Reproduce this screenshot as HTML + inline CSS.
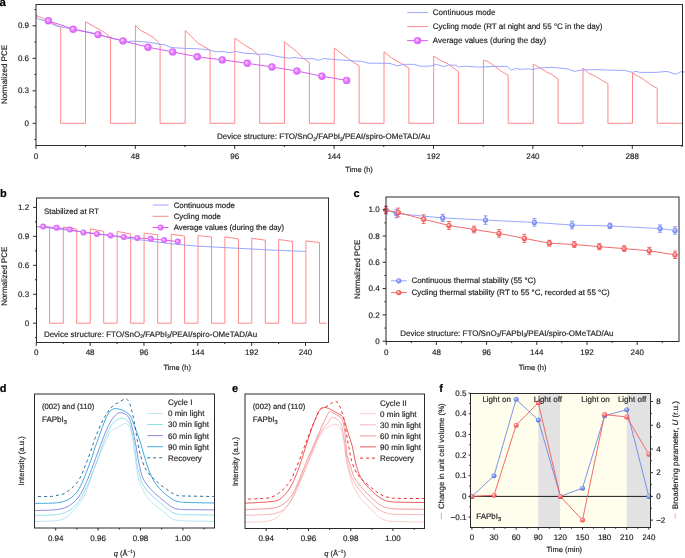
<!DOCTYPE html>
<html><head><meta charset="utf-8"><title>Figure</title>
<style>html,body{margin:0;padding:0;background:#fff;}svg{display:block;will-change:transform;}text{font-family:"Liberation Sans", sans-serif;text-rendering:geometricPrecision;stroke:#231f20;stroke-width:0.18px;paint-order:stroke;}</style></head>
<body><svg width="685" height="558" viewBox="0 0 685 558" font-family='"Liberation Sans", sans-serif' font-size="8" fill="#231f20">
<defs>
<radialGradient id="gp" cx="0.5" cy="0.5" r="0.5" fx="0.36" fy="0.38"><stop offset="0" stop-color="#fff4ff"/><stop offset="0.3" stop-color="#efa2ff"/><stop offset="0.62" stop-color="#e173fd"/><stop offset="1" stop-color="#d860f8"/></radialGradient>
<radialGradient id="gb" cx="0.5" cy="0.5" r="0.5" fx="0.4" fy="0.36"><stop offset="0" stop-color="#f4f6ff"/><stop offset="0.35" stop-color="#aab6fa"/><stop offset="0.75" stop-color="#7a8cf4"/><stop offset="1" stop-color="#7084f0"/></radialGradient>
<radialGradient id="gr" cx="0.5" cy="0.5" r="0.5" fx="0.4" fy="0.36"><stop offset="0" stop-color="#fff4f4"/><stop offset="0.35" stop-color="#f8a0a0"/><stop offset="0.75" stop-color="#f25a5a"/><stop offset="1" stop-color="#f05050"/></radialGradient>
<radialGradient id="gfb" cx="0.4" cy="0.36" r="0.62"><stop offset="0" stop-color="#eef1ff"/><stop offset="0.35" stop-color="#8fa2f0"/><stop offset="1" stop-color="#5b74dd"/></radialGradient>
<radialGradient id="gfr" cx="0.4" cy="0.36" r="0.62"><stop offset="0" stop-color="#ffeeee"/><stop offset="0.35" stop-color="#f79090"/><stop offset="1" stop-color="#ec4848"/></radialGradient>
</defs>
<text x="-0.6" y="5.6" font-size="11.5" font-weight="bold" fill="#000" >a</text>
<polyline points="36,15.1 60.7,27.1 60.7,123.3 85.5,123.3 85.5,21.8 104.3,32.3 110.6,37.6 110.6,123.3 135.4,123.3 135.4,25.4 140.4,30.4 145.7,33 153.6,37.6 160.1,44.4 160.1,123.3 185.2,123.3 185.2,30.5 197.8,43 210.1,50.1 210.1,123.3 234.8,123.3 234.8,38.2 245.3,45.5 252.6,49.8 259.7,56.2 259.7,123.3 284.4,123.3 284.4,41.8 296.5,51.4 303.1,58 309.4,62.6 309.4,123.3 334.3,123.3 334.3,48 350.5,60.4 359.1,65.8 359.1,123.3 384,123.3 384,51.9 391.5,57.8 401.7,63.7 408.9,68.1 408.9,123.3 433.7,123.3 433.7,56.2 441.1,60.8 447,63.2 458.4,71.4 458.4,123.3 483.4,123.3 483.4,60.1 488,61.6 495.3,66.7 501.1,71.1 508.2,75.4 508.2,123.3 533.3,123.3 533.3,64.1 540.5,68.1 546.4,71.8 550.8,73.9 558.1,79 558.1,123.3 583,123.3 583,68 588.8,73.4 594.6,75.8 601.9,80.4 607.9,83.6 607.9,123.3 632.5,123.3 632.5,73 643.4,79.2 650.9,84.8 657.2,88.3 657.2,123.3 682.4,123.3" fill="none" stroke="#ff7b7b" stroke-width="0.9" stroke-linejoin="round" />
<polyline points="36.2,16 37.9,18.8 45.4,20.9 56.8,26.2 64.6,27.5 73.4,29.4 80,30.4 93.1,33 106.3,36.9 119.4,40.2 128.6,41.5 132.6,41.1 139.1,41.5 149.6,42.2 158.8,44.2 165,44.9 170.8,47.4 175.2,47.8 185.4,48.4 194.2,48.6 203,49.2 208.8,50 216.1,51.8 223.4,51.4 229.2,52.8 236.5,51.5 243.8,53.2 252.6,53.5 258.4,54.4 265,54 270.2,54.9 279,56.8 289.2,58.2 295,57.5 302.3,58.7 314,58.7 318.4,60.4 323.5,58.5 333,59.4 347.6,60.4 355,61.1 362.3,61.4 368.1,63.2 376.9,63.2 390,63.4 397.3,65.9 403.2,64.4 413.4,64.3 420.7,66.2 429.5,66.2 436.8,64.4 443.3,66.6 448.4,65.1 455.8,65.2 458.8,67 464.6,66.2 479.2,67.1 493.8,66.4 506.9,66.4 511.3,70.3 515.7,68.4 520.1,69.3 528.8,68.9 533.2,69.6 537.6,68.1 552.3,67.3 564,68.5 568.4,69.1 574.2,71.4 580,70.2 594.6,69.5 610.7,70.2 624.8,70.4 632.3,72.4 636,71.4 639.7,72.4 655.8,72.4 667,71.4 675.7,74.3 680.6,71.8 685,72" fill="none" stroke="#8d9cff" stroke-width="0.9" stroke-linejoin="round" />
<polyline points="48.4,20.7 73.2,29.2 98,34.6 123,40.9 148,47.2 172.7,51.9 197.3,56.8 222.3,59.9 247.3,63.3 272,67 296.9,71 321.9,76.2 346.6,80.4" fill="none" stroke="#d65cf0" stroke-width="1" stroke-linejoin="round" />
<circle cx="48.4" cy="20.7" r="3.7" fill="url(#gp)"/>
<circle cx="73.2" cy="29.2" r="3.7" fill="url(#gp)"/>
<circle cx="98" cy="34.6" r="3.7" fill="url(#gp)"/>
<circle cx="123" cy="40.9" r="3.7" fill="url(#gp)"/>
<circle cx="148" cy="47.2" r="3.7" fill="url(#gp)"/>
<circle cx="172.7" cy="51.9" r="3.7" fill="url(#gp)"/>
<circle cx="197.3" cy="56.8" r="3.7" fill="url(#gp)"/>
<circle cx="222.3" cy="59.9" r="3.7" fill="url(#gp)"/>
<circle cx="247.3" cy="63.3" r="3.7" fill="url(#gp)"/>
<circle cx="272" cy="67" r="3.7" fill="url(#gp)"/>
<circle cx="296.9" cy="71" r="3.7" fill="url(#gp)"/>
<circle cx="321.9" cy="76.2" r="3.7" fill="url(#gp)"/>
<circle cx="346.6" cy="80.4" r="3.7" fill="url(#gp)"/>
<rect x="36" y="4.5" width="646.5" height="141" fill="none" stroke="#2b2b2b" stroke-width="1"/>
<line x1="85.6" y1="145.5" x2="85.6" y2="147.1" stroke="#2b2b2b" stroke-width="1" />
<line x1="185" y1="145.5" x2="185" y2="147.1" stroke="#2b2b2b" stroke-width="1" />
<line x1="284.4" y1="145.5" x2="284.4" y2="147.1" stroke="#2b2b2b" stroke-width="1" />
<line x1="383.79" y1="145.5" x2="383.79" y2="147.1" stroke="#2b2b2b" stroke-width="1" />
<line x1="483.19" y1="145.5" x2="483.19" y2="147.1" stroke="#2b2b2b" stroke-width="1" />
<line x1="582.59" y1="145.5" x2="582.59" y2="147.1" stroke="#2b2b2b" stroke-width="1" />
<line x1="681.99" y1="145.5" x2="681.99" y2="147.1" stroke="#2b2b2b" stroke-width="1" />
<line x1="35.9" y1="145.5" x2="35.9" y2="148.9" stroke="#2b2b2b" stroke-width="1" />
<text x="35.9" y="159.4" text-anchor="middle" >0</text>
<line x1="135.3" y1="145.5" x2="135.3" y2="148.9" stroke="#2b2b2b" stroke-width="1" />
<text x="135.3" y="159.4" text-anchor="middle" >48</text>
<line x1="234.7" y1="145.5" x2="234.7" y2="148.9" stroke="#2b2b2b" stroke-width="1" />
<text x="234.7" y="159.4" text-anchor="middle" >96</text>
<line x1="334.1" y1="145.5" x2="334.1" y2="148.9" stroke="#2b2b2b" stroke-width="1" />
<text x="334.1" y="159.4" text-anchor="middle" >144</text>
<line x1="433.49" y1="145.5" x2="433.49" y2="148.9" stroke="#2b2b2b" stroke-width="1" />
<text x="433.49" y="159.4" text-anchor="middle" >192</text>
<line x1="532.89" y1="145.5" x2="532.89" y2="148.9" stroke="#2b2b2b" stroke-width="1" />
<text x="532.89" y="159.4" text-anchor="middle" >240</text>
<line x1="632.29" y1="145.5" x2="632.29" y2="148.9" stroke="#2b2b2b" stroke-width="1" />
<text x="632.29" y="159.4" text-anchor="middle" >288</text>
<line x1="36" y1="139.54" x2="34.4" y2="139.54" stroke="#2b2b2b" stroke-width="1" />
<line x1="36" y1="107.06" x2="34.4" y2="107.06" stroke="#2b2b2b" stroke-width="1" />
<line x1="36" y1="74.56" x2="34.4" y2="74.56" stroke="#2b2b2b" stroke-width="1" />
<line x1="36" y1="42.08" x2="34.4" y2="42.08" stroke="#2b2b2b" stroke-width="1" />
<line x1="36" y1="9.58" x2="34.4" y2="9.58" stroke="#2b2b2b" stroke-width="1" />
<line x1="36" y1="123.3" x2="32.6" y2="123.3" stroke="#2b2b2b" stroke-width="1" />
<text x="29" y="125.9" text-anchor="end" >0</text>
<line x1="36" y1="90.81" x2="32.6" y2="90.81" stroke="#2b2b2b" stroke-width="1" />
<text x="29" y="93.41" text-anchor="end" >0.3</text>
<line x1="36" y1="58.32" x2="32.6" y2="58.32" stroke="#2b2b2b" stroke-width="1" />
<text x="29" y="60.92" text-anchor="end" >0.6</text>
<line x1="36" y1="25.83" x2="32.6" y2="25.83" stroke="#2b2b2b" stroke-width="1" />
<text x="29" y="28.43" text-anchor="end" >0.9</text>
<text x="7.2" y="74.5" text-anchor="middle" transform="rotate(-90 7.2 74.5)" >Normalized PCE</text>
<text x="359" y="172.1" font-size="7.5" text-anchor="middle" >Time (h)</text>
<text x="217" y="139.2" >Device structure: FTO/SnO<tspan dy="1.5" font-size="4.9">2</tspan><tspan dy="-1.5">/FAPbI</tspan><tspan dy="1.5" font-size="4.9">3</tspan><tspan dy="-1.5">/PEAI/spiro-OMeTAD/Au</tspan></text>
<line x1="407.2" y1="12.6" x2="428" y2="12.6" stroke="#8d9cff" stroke-width="0.9" />
<text x="432.8" y="15.4" >Continuous mode</text>
<line x1="407.2" y1="26.6" x2="428" y2="26.6" stroke="#ff7b7b" stroke-width="0.9" />
<text x="432.8" y="29.4" >Cycling mode (RT at night and 55 °C in the day)</text>
<line x1="407.2" y1="40.6" x2="428" y2="40.6" stroke="#d65cf0" stroke-width="1" />
<circle cx="417.6" cy="40.6" r="3.7" fill="url(#gp)"/>
<text x="432.8" y="43.4" >Average values (during the day)</text>
<text x="0.1" y="196.8" font-size="11" font-weight="bold" fill="#000" >b</text>
<polyline points="36.2,226.4 49.6,227.2 49.6,323.2 63.3,323.2 63.3,227 76.7,229.2 76.7,323.2 90.3,323.2 90.3,228.9 103.7,231.3 103.7,323.2 117.2,323.2 117.2,231.4 130.7,234 130.7,323.2 144.1,323.2 144.1,233.2 157.7,234.7 157.7,323.2 171.2,323.2 171.2,234.3 184.6,236.1 184.6,323.2 198,323.2 198,235.5 211.6,237.1 211.6,323.2 224.9,323.2 224.9,236.8 238.4,239 238.4,323.2 251.8,323.2 251.8,238.3 265.3,240.2 265.3,323.2 278.7,323.2 278.7,239.5 292.6,241.4 292.6,323.2 305.9,323.2 305.9,240.9 319.5,242.5 319.5,323.2 326.4,323.2" fill="none" stroke="#ff7b7b" stroke-width="0.9" stroke-linejoin="round" />
<polyline points="36.2,226.6 60,229.3 90,232.8 110,235.6 130,238.6 150,241 170,243.7 183.2,244.9 200,246.3 240.1,248.4 270,250 305.5,251.4" fill="none" stroke="#8d9cff" stroke-width="0.9" stroke-linejoin="round" />
<polyline points="43.1,226.6 56.6,227.7 69.9,229.6 83.4,232.4 96.9,234 110.5,235.4 123.8,236.9 137.2,237.9 150.8,238.8 164.2,240.1 177.8,241.6" fill="none" stroke="#d65cf0" stroke-width="1" stroke-linejoin="round" />
<circle cx="43.1" cy="226.6" r="3" fill="url(#gp)"/>
<circle cx="56.6" cy="227.7" r="3" fill="url(#gp)"/>
<circle cx="69.9" cy="229.6" r="3" fill="url(#gp)"/>
<circle cx="83.4" cy="232.4" r="3" fill="url(#gp)"/>
<circle cx="96.9" cy="234" r="3" fill="url(#gp)"/>
<circle cx="110.5" cy="235.4" r="3" fill="url(#gp)"/>
<circle cx="123.8" cy="236.9" r="3" fill="url(#gp)"/>
<circle cx="137.2" cy="237.9" r="3" fill="url(#gp)"/>
<circle cx="150.8" cy="238.8" r="3" fill="url(#gp)"/>
<circle cx="164.2" cy="240.1" r="3" fill="url(#gp)"/>
<circle cx="177.8" cy="241.6" r="3" fill="url(#gp)"/>
<rect x="36.5" y="198" width="292" height="144.5" fill="none" stroke="#2b2b2b" stroke-width="1"/>
<line x1="63.22" y1="342.5" x2="63.22" y2="344.1" stroke="#2b2b2b" stroke-width="1" />
<line x1="117.06" y1="342.5" x2="117.06" y2="344.1" stroke="#2b2b2b" stroke-width="1" />
<line x1="170.9" y1="342.5" x2="170.9" y2="344.1" stroke="#2b2b2b" stroke-width="1" />
<line x1="224.75" y1="342.5" x2="224.75" y2="344.1" stroke="#2b2b2b" stroke-width="1" />
<line x1="278.59" y1="342.5" x2="278.59" y2="344.1" stroke="#2b2b2b" stroke-width="1" />
<line x1="36.3" y1="342.5" x2="36.3" y2="345.9" stroke="#2b2b2b" stroke-width="1" />
<text x="36.3" y="354.5" text-anchor="middle" >0</text>
<line x1="90.14" y1="342.5" x2="90.14" y2="345.9" stroke="#2b2b2b" stroke-width="1" />
<text x="90.14" y="354.5" text-anchor="middle" >48</text>
<line x1="143.98" y1="342.5" x2="143.98" y2="345.9" stroke="#2b2b2b" stroke-width="1" />
<text x="143.98" y="354.5" text-anchor="middle" >96</text>
<line x1="197.82" y1="342.5" x2="197.82" y2="345.9" stroke="#2b2b2b" stroke-width="1" />
<text x="197.82" y="354.5" text-anchor="middle" >144</text>
<line x1="251.67" y1="342.5" x2="251.67" y2="345.9" stroke="#2b2b2b" stroke-width="1" />
<text x="251.67" y="354.5" text-anchor="middle" >192</text>
<line x1="305.51" y1="342.5" x2="305.51" y2="345.9" stroke="#2b2b2b" stroke-width="1" />
<text x="305.51" y="354.5" text-anchor="middle" >240</text>
<line x1="36.5" y1="337.68" x2="34.9" y2="337.68" stroke="#2b2b2b" stroke-width="1" />
<line x1="36.5" y1="308.72" x2="34.9" y2="308.72" stroke="#2b2b2b" stroke-width="1" />
<line x1="36.5" y1="279.77" x2="34.9" y2="279.77" stroke="#2b2b2b" stroke-width="1" />
<line x1="36.5" y1="250.82" x2="34.9" y2="250.82" stroke="#2b2b2b" stroke-width="1" />
<line x1="36.5" y1="221.88" x2="34.9" y2="221.88" stroke="#2b2b2b" stroke-width="1" />
<line x1="36.5" y1="323.2" x2="33.1" y2="323.2" stroke="#2b2b2b" stroke-width="1" />
<text x="29.1" y="325.9" text-anchor="end" >0</text>
<line x1="36.5" y1="294.25" x2="33.1" y2="294.25" stroke="#2b2b2b" stroke-width="1" />
<text x="29.1" y="296.95" text-anchor="end" >0.3</text>
<line x1="36.5" y1="265.3" x2="33.1" y2="265.3" stroke="#2b2b2b" stroke-width="1" />
<text x="29.1" y="268" text-anchor="end" >0.6</text>
<line x1="36.5" y1="236.35" x2="33.1" y2="236.35" stroke="#2b2b2b" stroke-width="1" />
<text x="29.1" y="239.05" text-anchor="end" >0.9</text>
<line x1="36.5" y1="207.4" x2="33.1" y2="207.4" stroke="#2b2b2b" stroke-width="1" />
<text x="29.1" y="210.1" text-anchor="end" >1.2</text>
<text x="7.2" y="276.3" text-anchor="middle" transform="rotate(-90 7.2 276.3)" >Normalized PCE</text>
<text x="177.2" y="370.1" font-size="7.5" text-anchor="middle" >Time (h)</text>
<text x="44.1" y="213.9" font-size="7.8" >Stabilized at RT</text>
<text x="43.9" y="336.8" >Device structure: FTO/SnO<tspan dy="1.5" font-size="4.9">2</tspan><tspan dy="-1.5">/FAPbI</tspan><tspan dy="1.5" font-size="4.9">3</tspan><tspan dy="-1.5">/PEAI/spiro-OMeTAD/Au</tspan></text>
<line x1="152.7" y1="205" x2="168.5" y2="205" stroke="#8d9cff" stroke-width="0.9" />
<text x="173.7" y="207.7" font-size="7.8" >Continuous mode</text>
<line x1="152.7" y1="216.3" x2="168.5" y2="216.3" stroke="#ff7b7b" stroke-width="0.9" />
<text x="173.7" y="219" font-size="7.8" >Cycling mode</text>
<line x1="152.7" y1="227.5" x2="168.5" y2="227.5" stroke="#d65cf0" stroke-width="1" />
<circle cx="160.6" cy="227.5" r="3" fill="url(#gp)"/>
<text x="173.7" y="230.2" font-size="7.8" >Average values (during the day)</text>
<text x="353.4" y="196.8" font-size="11" font-weight="bold" fill="#000" >c</text>
<polyline points="386,210 396.4,213.6 442.7,217.9 485.5,220.1 534.4,222.4 572.1,225.1 609.9,225.9 660.1,228.6 675,230.5" fill="none" stroke="#8d9cff" stroke-width="0.9" stroke-linejoin="round" />
<polyline points="386,210 398.3,212.5 423.6,219.2 448.9,225.5 474,229.5 499,233.4 524.3,238.4 549.3,243.2 574.3,244.5 599.4,246.7 624.2,248.6 649.3,250.8 675,254.8" fill="none" stroke="#f25a5a" stroke-width="0.9" stroke-linejoin="round" />
<line x1="386" y1="206.3" x2="386" y2="213.7" stroke="#7d8ff5" stroke-width="0.9" />
<line x1="384" y1="206.3" x2="388" y2="206.3" stroke="#7d8ff5" stroke-width="0.9" />
<line x1="384" y1="213.7" x2="388" y2="213.7" stroke="#7d8ff5" stroke-width="0.9" />
<circle cx="386" cy="210" r="2.6" fill="url(#gb)"/>
<line x1="396.4" y1="209.4" x2="396.4" y2="217.8" stroke="#7d8ff5" stroke-width="0.9" />
<line x1="394.4" y1="209.4" x2="398.4" y2="209.4" stroke="#7d8ff5" stroke-width="0.9" />
<line x1="394.4" y1="217.8" x2="398.4" y2="217.8" stroke="#7d8ff5" stroke-width="0.9" />
<circle cx="396.4" cy="213.6" r="2.6" fill="url(#gb)"/>
<line x1="442.7" y1="214.3" x2="442.7" y2="221.5" stroke="#7d8ff5" stroke-width="0.9" />
<line x1="440.7" y1="214.3" x2="444.7" y2="214.3" stroke="#7d8ff5" stroke-width="0.9" />
<line x1="440.7" y1="221.5" x2="444.7" y2="221.5" stroke="#7d8ff5" stroke-width="0.9" />
<circle cx="442.7" cy="217.9" r="2.6" fill="url(#gb)"/>
<line x1="485.5" y1="215.9" x2="485.5" y2="224.3" stroke="#7d8ff5" stroke-width="0.9" />
<line x1="483.5" y1="215.9" x2="487.5" y2="215.9" stroke="#7d8ff5" stroke-width="0.9" />
<line x1="483.5" y1="224.3" x2="487.5" y2="224.3" stroke="#7d8ff5" stroke-width="0.9" />
<circle cx="485.5" cy="220.1" r="2.6" fill="url(#gb)"/>
<line x1="534.4" y1="218.6" x2="534.4" y2="226.2" stroke="#7d8ff5" stroke-width="0.9" />
<line x1="532.4" y1="218.6" x2="536.4" y2="218.6" stroke="#7d8ff5" stroke-width="0.9" />
<line x1="532.4" y1="226.2" x2="536.4" y2="226.2" stroke="#7d8ff5" stroke-width="0.9" />
<circle cx="534.4" cy="222.4" r="2.6" fill="url(#gb)"/>
<line x1="572.1" y1="221.3" x2="572.1" y2="228.9" stroke="#7d8ff5" stroke-width="0.9" />
<line x1="570.1" y1="221.3" x2="574.1" y2="221.3" stroke="#7d8ff5" stroke-width="0.9" />
<line x1="570.1" y1="228.9" x2="574.1" y2="228.9" stroke="#7d8ff5" stroke-width="0.9" />
<circle cx="572.1" cy="225.1" r="2.6" fill="url(#gb)"/>
<line x1="609.9" y1="223.2" x2="609.9" y2="228.6" stroke="#7d8ff5" stroke-width="0.9" />
<line x1="607.9" y1="223.2" x2="611.9" y2="223.2" stroke="#7d8ff5" stroke-width="0.9" />
<line x1="607.9" y1="228.6" x2="611.9" y2="228.6" stroke="#7d8ff5" stroke-width="0.9" />
<circle cx="609.9" cy="225.9" r="2.6" fill="url(#gb)"/>
<line x1="660.1" y1="224.9" x2="660.1" y2="232.3" stroke="#7d8ff5" stroke-width="0.9" />
<line x1="658.1" y1="224.9" x2="662.1" y2="224.9" stroke="#7d8ff5" stroke-width="0.9" />
<line x1="658.1" y1="232.3" x2="662.1" y2="232.3" stroke="#7d8ff5" stroke-width="0.9" />
<circle cx="660.1" cy="228.6" r="2.6" fill="url(#gb)"/>
<line x1="675" y1="226.8" x2="675" y2="234.2" stroke="#7d8ff5" stroke-width="0.9" />
<line x1="673" y1="226.8" x2="677" y2="226.8" stroke="#7d8ff5" stroke-width="0.9" />
<line x1="673" y1="234.2" x2="677" y2="234.2" stroke="#7d8ff5" stroke-width="0.9" />
<circle cx="675" cy="230.5" r="2.6" fill="url(#gb)"/>
<line x1="386" y1="206.3" x2="386" y2="213.7" stroke="#f25a5a" stroke-width="0.9" />
<line x1="384" y1="206.3" x2="388" y2="206.3" stroke="#f25a5a" stroke-width="0.9" />
<line x1="384" y1="213.7" x2="388" y2="213.7" stroke="#f25a5a" stroke-width="0.9" />
<circle cx="386" cy="210" r="2.6" fill="url(#gr)"/>
<line x1="398.3" y1="208.1" x2="398.3" y2="216.9" stroke="#f25a5a" stroke-width="0.9" />
<line x1="396.3" y1="208.1" x2="400.3" y2="208.1" stroke="#f25a5a" stroke-width="0.9" />
<line x1="396.3" y1="216.9" x2="400.3" y2="216.9" stroke="#f25a5a" stroke-width="0.9" />
<circle cx="398.3" cy="212.5" r="2.6" fill="url(#gr)"/>
<line x1="423.6" y1="214.8" x2="423.6" y2="223.6" stroke="#f25a5a" stroke-width="0.9" />
<line x1="421.6" y1="214.8" x2="425.6" y2="214.8" stroke="#f25a5a" stroke-width="0.9" />
<line x1="421.6" y1="223.6" x2="425.6" y2="223.6" stroke="#f25a5a" stroke-width="0.9" />
<circle cx="423.6" cy="219.2" r="2.6" fill="url(#gr)"/>
<line x1="448.9" y1="221.5" x2="448.9" y2="229.5" stroke="#f25a5a" stroke-width="0.9" />
<line x1="446.9" y1="221.5" x2="450.9" y2="221.5" stroke="#f25a5a" stroke-width="0.9" />
<line x1="446.9" y1="229.5" x2="450.9" y2="229.5" stroke="#f25a5a" stroke-width="0.9" />
<circle cx="448.9" cy="225.5" r="2.6" fill="url(#gr)"/>
<line x1="474" y1="226.2" x2="474" y2="232.8" stroke="#f25a5a" stroke-width="0.9" />
<line x1="472" y1="226.2" x2="476" y2="226.2" stroke="#f25a5a" stroke-width="0.9" />
<line x1="472" y1="232.8" x2="476" y2="232.8" stroke="#f25a5a" stroke-width="0.9" />
<circle cx="474" cy="229.5" r="2.6" fill="url(#gr)"/>
<line x1="499" y1="229.6" x2="499" y2="237.2" stroke="#f25a5a" stroke-width="0.9" />
<line x1="497" y1="229.6" x2="501" y2="229.6" stroke="#f25a5a" stroke-width="0.9" />
<line x1="497" y1="237.2" x2="501" y2="237.2" stroke="#f25a5a" stroke-width="0.9" />
<circle cx="499" cy="233.4" r="2.6" fill="url(#gr)"/>
<line x1="524.3" y1="234.4" x2="524.3" y2="242.4" stroke="#f25a5a" stroke-width="0.9" />
<line x1="522.3" y1="234.4" x2="526.3" y2="234.4" stroke="#f25a5a" stroke-width="0.9" />
<line x1="522.3" y1="242.4" x2="526.3" y2="242.4" stroke="#f25a5a" stroke-width="0.9" />
<circle cx="524.3" cy="238.4" r="2.6" fill="url(#gr)"/>
<line x1="549.3" y1="240.3" x2="549.3" y2="246.1" stroke="#f25a5a" stroke-width="0.9" />
<line x1="547.3" y1="240.3" x2="551.3" y2="240.3" stroke="#f25a5a" stroke-width="0.9" />
<line x1="547.3" y1="246.1" x2="551.3" y2="246.1" stroke="#f25a5a" stroke-width="0.9" />
<circle cx="549.3" cy="243.2" r="2.6" fill="url(#gr)"/>
<line x1="574.3" y1="241.6" x2="574.3" y2="247.4" stroke="#f25a5a" stroke-width="0.9" />
<line x1="572.3" y1="241.6" x2="576.3" y2="241.6" stroke="#f25a5a" stroke-width="0.9" />
<line x1="572.3" y1="247.4" x2="576.3" y2="247.4" stroke="#f25a5a" stroke-width="0.9" />
<circle cx="574.3" cy="244.5" r="2.6" fill="url(#gr)"/>
<line x1="599.4" y1="243.7" x2="599.4" y2="249.7" stroke="#f25a5a" stroke-width="0.9" />
<line x1="597.4" y1="243.7" x2="601.4" y2="243.7" stroke="#f25a5a" stroke-width="0.9" />
<line x1="597.4" y1="249.7" x2="601.4" y2="249.7" stroke="#f25a5a" stroke-width="0.9" />
<circle cx="599.4" cy="246.7" r="2.6" fill="url(#gr)"/>
<line x1="624.2" y1="245.8" x2="624.2" y2="251.4" stroke="#f25a5a" stroke-width="0.9" />
<line x1="622.2" y1="245.8" x2="626.2" y2="245.8" stroke="#f25a5a" stroke-width="0.9" />
<line x1="622.2" y1="251.4" x2="626.2" y2="251.4" stroke="#f25a5a" stroke-width="0.9" />
<circle cx="624.2" cy="248.6" r="2.6" fill="url(#gr)"/>
<line x1="649.3" y1="247.4" x2="649.3" y2="254.2" stroke="#f25a5a" stroke-width="0.9" />
<line x1="647.3" y1="247.4" x2="651.3" y2="247.4" stroke="#f25a5a" stroke-width="0.9" />
<line x1="647.3" y1="254.2" x2="651.3" y2="254.2" stroke="#f25a5a" stroke-width="0.9" />
<circle cx="649.3" cy="250.8" r="2.6" fill="url(#gr)"/>
<line x1="675" y1="251.1" x2="675" y2="258.5" stroke="#f25a5a" stroke-width="0.9" />
<line x1="673" y1="251.1" x2="677" y2="251.1" stroke="#f25a5a" stroke-width="0.9" />
<line x1="673" y1="258.5" x2="677" y2="258.5" stroke="#f25a5a" stroke-width="0.9" />
<circle cx="675" cy="254.8" r="2.6" fill="url(#gr)"/>
<rect x="386" y="197" width="293" height="144.5" fill="none" stroke="#2b2b2b" stroke-width="1"/>
<line x1="411.3" y1="341.5" x2="411.3" y2="343.1" stroke="#2b2b2b" stroke-width="1" />
<line x1="461.5" y1="341.5" x2="461.5" y2="343.1" stroke="#2b2b2b" stroke-width="1" />
<line x1="511.7" y1="341.5" x2="511.7" y2="343.1" stroke="#2b2b2b" stroke-width="1" />
<line x1="561.89" y1="341.5" x2="561.89" y2="343.1" stroke="#2b2b2b" stroke-width="1" />
<line x1="612.09" y1="341.5" x2="612.09" y2="343.1" stroke="#2b2b2b" stroke-width="1" />
<line x1="662.29" y1="341.5" x2="662.29" y2="343.1" stroke="#2b2b2b" stroke-width="1" />
<line x1="386.2" y1="341.5" x2="386.2" y2="344.9" stroke="#2b2b2b" stroke-width="1" />
<text x="386.2" y="354.5" text-anchor="middle" >0</text>
<line x1="436.4" y1="341.5" x2="436.4" y2="344.9" stroke="#2b2b2b" stroke-width="1" />
<text x="436.4" y="354.5" text-anchor="middle" >48</text>
<line x1="486.6" y1="341.5" x2="486.6" y2="344.9" stroke="#2b2b2b" stroke-width="1" />
<text x="486.6" y="354.5" text-anchor="middle" >96</text>
<line x1="536.8" y1="341.5" x2="536.8" y2="344.9" stroke="#2b2b2b" stroke-width="1" />
<text x="536.8" y="354.5" text-anchor="middle" >144</text>
<line x1="586.99" y1="341.5" x2="586.99" y2="344.9" stroke="#2b2b2b" stroke-width="1" />
<text x="586.99" y="354.5" text-anchor="middle" >192</text>
<line x1="637.19" y1="341.5" x2="637.19" y2="344.9" stroke="#2b2b2b" stroke-width="1" />
<text x="637.19" y="354.5" text-anchor="middle" >240</text>
<line x1="386" y1="328.05" x2="384.4" y2="328.05" stroke="#2b2b2b" stroke-width="1" />
<line x1="386" y1="301.75" x2="384.4" y2="301.75" stroke="#2b2b2b" stroke-width="1" />
<line x1="386" y1="275.45" x2="384.4" y2="275.45" stroke="#2b2b2b" stroke-width="1" />
<line x1="386" y1="249.15" x2="384.4" y2="249.15" stroke="#2b2b2b" stroke-width="1" />
<line x1="386" y1="222.85" x2="384.4" y2="222.85" stroke="#2b2b2b" stroke-width="1" />
<line x1="386" y1="341.2" x2="382.6" y2="341.2" stroke="#2b2b2b" stroke-width="1" />
<text x="379.6" y="343.8" text-anchor="end" >0</text>
<line x1="386" y1="314.9" x2="382.6" y2="314.9" stroke="#2b2b2b" stroke-width="1" />
<text x="379.6" y="317.5" text-anchor="end" >0.2</text>
<line x1="386" y1="288.6" x2="382.6" y2="288.6" stroke="#2b2b2b" stroke-width="1" />
<text x="379.6" y="291.2" text-anchor="end" >0.4</text>
<line x1="386" y1="262.3" x2="382.6" y2="262.3" stroke="#2b2b2b" stroke-width="1" />
<text x="379.6" y="264.9" text-anchor="end" >0.6</text>
<line x1="386" y1="236" x2="382.6" y2="236" stroke="#2b2b2b" stroke-width="1" />
<text x="379.6" y="238.6" text-anchor="end" >0.8</text>
<line x1="386" y1="209.7" x2="382.6" y2="209.7" stroke="#2b2b2b" stroke-width="1" />
<text x="379.6" y="212.3" text-anchor="end" >1.0</text>
<text x="360" y="269.3" text-anchor="middle" transform="rotate(-90 360 269.3)" >Normalized PCE</text>
<text x="532.6" y="370.4" font-size="7.5" text-anchor="middle" >Time (h)</text>
<text x="400.3" y="335.8" >Device structure: FTO/SnO<tspan dy="1.5" font-size="4.9">2</tspan><tspan dy="-1.5">/FAPbI</tspan><tspan dy="1.5" font-size="4.9">3</tspan><tspan dy="-1.5">/PEAI/spiro-OMeTAD/Au</tspan></text>
<line x1="391" y1="280.8" x2="406.9" y2="280.8" stroke="#8d9cff" stroke-width="0.9" />
<circle cx="398.8" cy="280.8" r="2.6" fill="url(#gb)"/>
<text x="411.5" y="283.1" font-size="7.92" >Continuous thermal stability (55 °C)</text>
<line x1="391" y1="292.6" x2="406.9" y2="292.6" stroke="#f25a5a" stroke-width="0.9" />
<circle cx="398.8" cy="292.6" r="2.6" fill="url(#gr)"/>
<text x="411.5" y="294.8" font-size="7.92" >Cycling thermal stability (RT to 55 °C, recorded at 55 °C)</text>
<text x="-0.3" y="391.9" font-size="11" font-weight="bold" fill="#000" >d</text>
<clipPath id="cd"><rect x="34.5" y="394.0" width="180.0" height="134.0"/></clipPath>
<g clip-path="url(#cd)">
<path d="M34,521.5 C36.67,521.43 45.97,521.3 50,521.1 C54.03,520.9 55.9,520.7 58.2,520.3 C60.5,519.9 62.05,519.5 63.8,518.7 C65.55,517.9 67.08,516.85 68.7,515.5 C70.32,514.15 71.88,512.35 73.5,510.6 C75.12,508.85 76.98,506.72 78.4,505 C79.82,503.28 80.9,502.08 82,500.3 C83.1,498.52 83.97,496.68 85,494.3 C86.03,491.92 86.88,489.6 88.2,486 C89.52,482.4 91.3,477.1 92.9,472.7 C94.5,468.3 96.42,463.22 97.8,459.6 C99.18,455.98 100.23,453.35 101.2,451 C102.17,448.65 102.68,447.45 103.6,445.5 C104.52,443.55 105.7,441.48 106.7,439.3 C107.7,437.12 108.62,434.03 109.6,432.4 C110.58,430.77 111.45,430.18 112.6,429.5 C113.75,428.82 115.28,428.87 116.5,428.3 C117.72,427.73 118.5,426.88 119.9,426.1 C121.3,425.32 123.58,423.85 124.9,423.6 C126.22,423.35 126.98,423.93 127.8,424.6 C128.62,425.27 129.13,425.95 129.8,427.6 C130.47,429.25 131.22,432.03 131.8,434.5 C132.38,436.97 132.9,439.82 133.3,442.4 C133.7,444.98 133.83,447.07 134.2,450 C134.57,452.93 134.98,456.17 135.5,460 C136.02,463.83 136.63,469.25 137.3,473 C137.97,476.75 138.57,479.72 139.5,482.5 C140.43,485.28 141.68,487.32 142.9,489.7 C144.12,492.08 145.32,494.67 146.8,496.8 C148.28,498.93 150.15,500.88 151.8,502.5 C153.45,504.12 155.07,505.18 156.7,506.5 C158.33,507.82 159.95,509.08 161.6,510.4 C163.25,511.72 164.95,513.08 166.6,514.4 C168.25,515.72 169.87,517.32 171.5,518.3 C173.13,519.28 174.15,519.87 176.4,520.3 C178.65,520.73 178.65,520.73 185,520.9 C191.35,521.07 209.58,521.23 214.5,521.3" fill="none" stroke="#b3e1f6" stroke-width="0.9" stroke-linejoin="round" />
<path d="M34,515.3 C36.67,515.27 45.97,515.27 50,515.1 C54.03,514.93 55.77,514.7 58.2,514.3 C60.63,513.9 62.58,513.45 64.6,512.7 C66.62,511.95 68.42,511.08 70.3,509.8 C72.18,508.52 74.15,506.88 75.9,505 C77.65,503.12 79.45,500.65 80.8,498.5 C82.15,496.35 82.82,494.43 84,492.1 C85.18,489.77 86.42,487.9 87.9,484.5 C89.38,481.1 91.25,475.98 92.9,471.7 C94.55,467.42 96.48,462.47 97.8,458.8 C99.12,455.13 99.65,452.95 100.8,449.7 C101.95,446.45 103.4,442.5 104.7,439.3 C106,436.1 107.28,433.12 108.6,430.5 C109.92,427.88 111.28,425.25 112.6,423.6 C113.92,421.95 115.35,421.43 116.5,420.6 C117.65,419.77 118.43,419.02 119.5,418.6 C120.57,418.18 121.83,418 122.9,418.1 C123.97,418.2 124.92,418.45 125.9,419.2 C126.88,419.95 127.98,421.2 128.8,422.6 C129.62,424 130.13,425.28 130.8,427.6 C131.47,429.92 132.23,433.7 132.8,436.5 C133.37,439.3 133.77,441.82 134.2,444.4 C134.63,446.98 134.85,448.4 135.4,452 C135.95,455.6 136.58,461.35 137.5,466 C138.42,470.65 139.67,476.27 140.9,479.9 C142.13,483.53 143.42,485.5 144.9,487.8 C146.38,490.1 148.17,491.98 149.8,493.7 C151.43,495.42 153.05,496.63 154.7,498.1 C156.35,499.57 158.05,501.1 159.7,502.5 C161.35,503.9 162.97,505.18 164.6,506.5 C166.23,507.82 167.87,509.25 169.5,510.4 C171.13,511.55 172.75,512.73 174.4,513.4 C176.05,514.07 177.63,514.18 179.4,514.4 C181.17,514.62 179.15,514.58 185,514.7 C190.85,514.82 209.58,515.03 214.5,515.1" fill="none" stroke="#86dbea" stroke-width="0.9" stroke-linejoin="round" />
<path d="M34,510.5 C36.67,510.43 45.97,510.28 50,510.1 C54.03,509.92 55.77,509.78 58.2,509.4 C60.63,509.02 62.58,508.53 64.6,507.8 C66.62,507.07 68.42,506.27 70.3,505 C72.18,503.73 74.15,502.08 75.9,500.2 C77.65,498.32 79.45,495.82 80.8,493.7 C82.15,491.58 82.93,489.7 84,487.5 C85.07,485.3 85.95,483.5 87.2,480.5 C88.45,477.5 90.12,473.17 91.5,469.5 C92.88,465.83 94.28,461.8 95.5,458.5 C96.72,455.2 97.6,452.9 98.8,449.7 C100,446.5 101.38,442.67 102.7,439.3 C104.02,435.93 105.38,432.45 106.7,429.5 C108.02,426.55 109.28,423.82 110.6,421.6 C111.92,419.38 113.4,417.57 114.6,416.2 C115.8,414.83 116.78,414 117.8,413.4 C118.82,412.8 119.55,412.53 120.7,412.6 C121.85,412.67 123.52,413.2 124.7,413.8 C125.88,414.4 126.87,415.05 127.8,416.2 C128.73,417.35 129.55,418.8 130.3,420.7 C131.05,422.6 131.65,424.97 132.3,427.6 C132.95,430.23 133.63,433.7 134.2,436.5 C134.77,439.3 135.23,441.82 135.7,444.4 C136.17,446.98 136.45,448.82 137,452 C137.55,455.18 138.18,459.58 139,463.5 C139.82,467.42 140.92,472.45 141.9,475.5 C142.88,478.55 143.58,479.68 144.9,481.8 C146.22,483.92 148.17,486.3 149.8,488.2 C151.43,490.1 153.05,491.63 154.7,493.2 C156.35,494.77 158.05,496.2 159.7,497.6 C161.35,499 162.97,500.28 164.6,501.6 C166.23,502.92 167.87,504.38 169.5,505.5 C171.13,506.62 172.75,507.67 174.4,508.3 C176.05,508.93 177.63,509.08 179.4,509.3 C181.17,509.52 179.15,509.5 185,509.6 C190.85,509.7 209.58,509.85 214.5,509.9" fill="none" stroke="#7b7fdc" stroke-width="0.9" stroke-linejoin="round" />
<path d="M34,503.4 C36.67,503.37 45.97,503.33 50,503.2 C54.03,503.07 55.9,502.9 58.2,502.6 C60.5,502.3 62.05,501.93 63.8,501.4 C65.55,500.87 67.08,500.35 68.7,499.4 C70.32,498.45 72.03,497.05 73.5,495.7 C74.97,494.35 76.28,492.98 77.5,491.3 C78.72,489.62 79.72,487.82 80.8,485.6 C81.88,483.38 82.95,480.52 84,478 C85.05,475.48 85.82,473.83 87.1,470.5 C88.38,467.17 90.38,461.83 91.7,458 C93.02,454.17 93.98,450.5 95,447.5 C96.02,444.5 96.83,442.67 97.8,440 C98.77,437.33 99.82,434.23 100.8,431.5 C101.78,428.77 102.72,426.07 103.7,423.6 C104.68,421.13 105.72,418.68 106.7,416.7 C107.68,414.72 108.62,412.93 109.6,411.7 C110.58,410.47 111.62,409.82 112.6,409.3 C113.58,408.78 114.32,408.62 115.5,408.6 C116.68,408.58 118.17,408.75 119.7,409.2 C121.23,409.65 123.18,410.47 124.7,411.3 C126.22,412.13 127.62,412.97 128.8,414.2 C129.98,415.43 130.82,416.63 131.8,418.7 C132.78,420.77 133.72,423.97 134.7,426.6 C135.68,429.23 136.7,431.7 137.7,434.5 C138.7,437.3 139.87,440.73 140.7,443.4 C141.53,446.07 141.82,447.48 142.7,450.5 C143.58,453.52 144.98,458.25 146,461.5 C147.02,464.75 147.83,467.43 148.8,470 C149.77,472.57 150.82,474.85 151.8,476.9 C152.78,478.95 153.38,480.33 154.7,482.3 C156.02,484.27 158.05,486.83 159.7,488.7 C161.35,490.57 162.97,492.05 164.6,493.5 C166.23,494.95 167.87,496.25 169.5,497.4 C171.13,498.55 172.75,499.67 174.4,500.4 C176.05,501.13 177.63,501.47 179.4,501.8 C181.17,502.13 179.15,502.2 185,502.4 C190.85,502.6 209.58,502.9 214.5,503" fill="none" stroke="#3fa9e2" stroke-width="1.0" stroke-linejoin="round" />
<path d="M38,496.5 C39.35,496.5 43.82,496.52 46.1,496.5 C48.38,496.48 49.82,496.6 51.7,496.4 C53.58,496.2 55.52,495.68 57.4,495.3 C59.28,494.92 61.12,494.9 63,494.1 C64.88,493.3 66.95,491.77 68.7,490.5 C70.45,489.23 71.95,488.02 73.5,486.5 C75.05,484.98 76.7,483.23 78,481.4 C79.3,479.57 80.3,477.57 81.3,475.5 C82.3,473.43 83,471.52 84,469 C85,466.48 86.05,463.73 87.3,460.4 C88.55,457.07 90.23,452.63 91.5,449 C92.77,445.37 93.85,441.52 94.9,438.6 C95.95,435.68 96.82,433.83 97.8,431.5 C98.78,429.17 99.82,426.75 100.8,424.6 C101.78,422.45 102.72,420.42 103.7,418.6 C104.68,416.78 105.72,415.25 106.7,413.7 C107.68,412.15 108.45,410.7 109.6,409.3 C110.75,407.9 112.12,406.45 113.6,405.3 C115.08,404.15 116.67,403.43 118.5,402.4 C120.33,401.37 123.13,399.57 124.6,399.1 C126.07,398.63 126.43,398.8 127.3,399.6 C128.17,400.4 129.13,402.37 129.8,403.9 C130.47,405.43 130.8,407 131.3,408.8 C131.8,410.6 132.32,412.55 132.8,414.7 C133.28,416.85 133.72,419.07 134.2,421.7 C134.68,424.33 135.2,427.55 135.7,430.5 C136.2,433.45 136.65,436.27 137.2,439.4 C137.75,442.53 138.35,446.33 139,449.3 C139.65,452.27 140.2,454.33 141.1,457.2 C142,460.07 143.33,464.03 144.4,466.5 C145.47,468.97 146.1,470.1 147.5,472 C148.9,473.9 151.1,476.18 152.8,477.9 C154.5,479.62 156.23,480.98 157.7,482.3 C159.17,483.62 160.12,484.65 161.6,485.8 C163.08,486.95 164.95,488.05 166.6,489.2 C168.25,490.35 169.87,491.72 171.5,492.7 C173.13,493.68 174.6,494.57 176.4,495.1 C178.2,495.63 175.95,495.67 182.3,495.9 C188.65,496.13 209.13,496.4 214.5,496.5" fill="none" stroke="#2f6b8c" stroke-width="1.0" stroke-linejoin="round" stroke-dasharray="3,3"/>
</g>
<rect x="34.5" y="394" width="180" height="134" fill="none" stroke="#2b2b2b" stroke-width="1"/>
<line x1="76.9" y1="528" x2="76.9" y2="529.5" stroke="#2b2b2b" stroke-width="1" />
<line x1="119.3" y1="528" x2="119.3" y2="529.5" stroke="#2b2b2b" stroke-width="1" />
<line x1="161.7" y1="528" x2="161.7" y2="529.5" stroke="#2b2b2b" stroke-width="1" />
<line x1="204.1" y1="528" x2="204.1" y2="529.5" stroke="#2b2b2b" stroke-width="1" />
<line x1="55.7" y1="528" x2="55.7" y2="530.5" stroke="#2b2b2b" stroke-width="1" />
<text x="55.7" y="541.1" text-anchor="middle" >0.94</text>
<line x1="98.1" y1="528" x2="98.1" y2="530.5" stroke="#2b2b2b" stroke-width="1" />
<text x="98.1" y="541.1" text-anchor="middle" >0.96</text>
<line x1="140.5" y1="528" x2="140.5" y2="530.5" stroke="#2b2b2b" stroke-width="1" />
<text x="140.5" y="541.1" text-anchor="middle" >0.98</text>
<line x1="182.9" y1="528" x2="182.9" y2="530.5" stroke="#2b2b2b" stroke-width="1" />
<text x="182.9" y="541.1" text-anchor="middle" >1.00</text>
<text x="24.4" y="460.8" font-size="7.8" text-anchor="middle" transform="rotate(-90 24.4 460.8)" >Intensity (a.u.)</text>
<text x="124.5" y="556" font-size="7.5" text-anchor="middle" ><tspan font-style="italic">q</tspan> (Å<tspan dy="-3.2" font-size="4.8">−1</tspan><tspan dy="3.2">)</tspan></text>
<text x="42" y="409.3" font-size="7.7" >(002) and (110)</text>
<text x="42" y="421.9" >FAPbI<tspan dy="1.7" font-size="5.6">3</tspan><tspan dy="-1.7"></tspan></text>
<text x="168" y="405" >Cycle I</text>
<line x1="147.2" y1="413.4" x2="162.9" y2="413.4" stroke="#b3e1f6" stroke-width="0.9" />
<text x="168" y="416.3" >0 min light</text>
<line x1="147.2" y1="424.5" x2="162.9" y2="424.5" stroke="#86dbea" stroke-width="0.9" />
<text x="168" y="427.4" >30 min light</text>
<line x1="147.2" y1="435.6" x2="162.9" y2="435.6" stroke="#7b7fdc" stroke-width="0.9" />
<text x="168" y="438.5" >60 min light</text>
<line x1="147.2" y1="446.7" x2="162.9" y2="446.7" stroke="#3fa9e2" stroke-width="1.0" />
<text x="168" y="449.6" >90 min light</text>
<line x1="147.2" y1="457.8" x2="162.9" y2="457.8" stroke="#2f6b8c" stroke-width="1.0" stroke-dasharray="3,3"/>
<text x="168" y="460.7" >Recovery</text>
<text x="232" y="392.2" font-size="11" font-weight="bold" fill="#000" >e</text>
<clipPath id="ce"><rect x="245.0" y="394.0" width="179.5" height="134.5"/></clipPath>
<g clip-path="url(#ce)">
<path d="M245.1,522.3 C247.77,522.22 257.35,522 261.1,521.8 C264.85,521.6 265.72,521.42 267.6,521.1 C269.48,520.78 270.78,520.57 272.4,519.9 C274.02,519.23 275.68,518.37 277.3,517.1 C278.92,515.83 280.5,514.05 282.1,512.3 C283.7,510.55 285.28,508.75 286.9,506.6 C288.52,504.45 290.45,501.55 291.8,499.4 C293.15,497.25 293.47,496.93 295,493.7 C296.53,490.47 298.92,484.87 301,480 C303.08,475.13 305.37,469.55 307.5,464.5 C309.63,459.45 312.1,453.73 313.8,449.7 C315.5,445.67 316.38,443.02 317.7,440.3 C319.02,437.58 320.55,435.2 321.7,433.4 C322.85,431.6 323.28,430.65 324.6,429.5 C325.92,428.35 328.12,427.32 329.6,426.5 C331.08,425.68 332.35,424.95 333.5,424.6 C334.65,424.25 335.58,424.23 336.5,424.4 C337.42,424.57 338.15,424.6 339,425.6 C339.85,426.6 340.88,428.33 341.6,430.4 C342.32,432.47 342.75,434.95 343.3,438 C343.85,441.05 344.52,445.87 344.9,448.7 C345.28,451.53 345.08,451.78 345.6,455 C346.12,458.22 347.03,463.68 348,468 C348.97,472.32 350.05,476.95 351.4,480.9 C352.75,484.85 354.2,488.33 356.1,491.7 C358,495.07 360.33,498.2 362.8,501.1 C365.27,504 368.43,506.63 370.9,509.1 C373.37,511.57 375.35,514.1 377.6,515.9 C379.85,517.7 381.5,518.97 384.4,519.9 C387.3,520.83 388.32,521.15 395,521.5 C401.68,521.85 419.58,521.92 424.5,522" fill="none" stroke="#f9c6c6" stroke-width="0.9" stroke-linejoin="round" />
<path d="M245.1,515.3 C247.77,515.22 257.08,514.97 261.1,514.8 C265.12,514.63 266.92,514.52 269.2,514.3 C271.48,514.08 272.92,513.97 274.8,513.5 C276.68,513.03 278.75,512.38 280.5,511.5 C282.25,510.62 283.68,509.82 285.3,508.2 C286.92,506.58 288.85,503.82 290.2,501.8 C291.55,499.78 292.52,497.82 293.4,496.1 C294.28,494.38 294.48,493.85 295.5,491.5 C296.52,489.15 297.75,486.17 299.5,482 C301.25,477.83 303.78,471.88 306,466.5 C308.22,461.12 311.02,454.07 312.8,449.7 C314.58,445.33 315.38,443.18 316.7,440.3 C318.02,437.42 319.38,434.7 320.7,432.4 C322.02,430.1 323.35,428.08 324.6,426.5 C325.85,424.92 327.07,424.35 328.2,422.9 C329.33,421.45 330.32,418.6 331.4,417.8 C332.48,417 333.43,417.6 334.7,418.1 C335.97,418.6 337.85,419.63 339,420.8 C340.15,421.97 340.88,422.95 341.6,425.1 C342.32,427.25 342.75,430.48 343.3,433.7 C343.85,436.92 344.47,440.85 344.9,444.4 C345.33,447.95 345.15,450.7 345.9,455 C346.65,459.3 348.15,465.88 349.4,470.2 C350.65,474.52 351.83,477.77 353.4,480.9 C354.97,484.03 356.78,486.32 358.8,489 C360.82,491.68 363.03,494.32 365.5,497 C367.97,499.68 371.13,502.85 373.6,505.1 C376.07,507.35 378.07,509.15 380.3,510.5 C382.53,511.85 384.55,512.58 387,513.2 C389.45,513.82 388.75,513.95 395,514.2 C401.25,514.45 419.58,514.62 424.5,514.7" fill="none" stroke="#f6acac" stroke-width="0.9" stroke-linejoin="round" />
<path d="M245.1,509.7 C247.77,509.58 257.08,509.18 261.1,509 C265.12,508.82 266.92,508.8 269.2,508.6 C271.48,508.4 272.92,508.27 274.8,507.8 C276.68,507.33 278.75,506.67 280.5,505.8 C282.25,504.93 283.82,503.82 285.3,502.6 C286.78,501.38 288.05,500.12 289.4,498.5 C290.75,496.88 291.98,495.48 293.4,492.9 C294.82,490.32 296.07,487.33 297.9,483 C299.73,478.67 302.72,471.07 304.4,466.9 C306.08,462.73 306.77,460.87 308,458 C309.23,455.13 310.5,452.65 311.8,449.7 C313.1,446.75 314.48,443.33 315.8,440.3 C317.12,437.27 318.4,434.45 319.7,431.5 C321,428.55 322.37,425.23 323.6,422.6 C324.83,419.97 326.13,417.53 327.1,415.7 C328.07,413.87 328.5,412.1 329.4,411.6 C330.3,411.1 331.27,412.15 332.5,412.7 C333.73,413.25 335.37,414 336.8,414.9 C338.23,415.8 340.02,416.77 341.1,418.1 C342.18,419.43 342.67,420.48 343.3,422.9 C343.93,425.32 344.47,429.2 344.9,432.6 C345.33,436 345.55,439.57 345.9,443.3 C346.25,447.03 346.3,451.42 347,455 C347.7,458.58 349.03,461.38 350.1,464.8 C351.17,468.22 352.17,472.58 353.4,475.5 C354.63,478.42 355.7,479.83 357.5,482.3 C359.3,484.77 361.73,487.62 364.2,490.3 C366.67,492.98 369.62,495.93 372.3,498.4 C374.98,500.87 377.85,503.53 380.3,505.1 C382.75,506.67 384.55,507.17 387,507.8 C389.45,508.43 388.75,508.65 395,508.9 C401.25,509.15 419.58,509.23 424.5,509.3" fill="none" stroke="#f38b8b" stroke-width="0.9" stroke-linejoin="round" />
<path d="M245.1,503.2 C247.77,503.07 257.08,502.63 261.1,502.4 C265.12,502.17 266.78,502.03 269.2,501.8 C271.62,501.57 273.85,501.4 275.6,501 C277.35,500.6 278.35,500.28 279.7,499.4 C281.05,498.52 282.37,497.05 283.7,495.7 C285.03,494.35 286.48,492.92 287.7,491.3 C288.92,489.68 289.83,488.13 291,486 C292.17,483.87 293.37,481.58 294.7,478.5 C296.03,475.42 297.7,471.08 299,467.5 C300.3,463.92 301.42,460.33 302.5,457 C303.58,453.67 304.5,450.67 305.5,447.5 C306.5,444.33 307.45,441.25 308.5,438 C309.55,434.75 310.58,431.3 311.8,428 C313.02,424.7 314.65,420.93 315.8,418.2 C316.95,415.47 317.75,413.25 318.7,411.6 C319.65,409.95 320.28,408.97 321.5,408.3 C322.72,407.63 324.52,407.43 326,407.6 C327.48,407.77 328.78,408.53 330.4,409.3 C332.02,410.07 333.92,411.18 335.7,412.2 C337.48,413.22 339.83,414.47 341.1,415.4 C342.37,416.33 342.67,416.72 343.3,417.8 C343.93,418.88 344.28,419.97 344.9,421.9 C345.52,423.83 346.2,426.72 347,429.4 C347.8,432.08 348.8,435.13 349.7,438 C350.6,440.87 351.58,443.27 352.4,446.6 C353.22,449.93 353.75,454.18 354.6,458 C355.45,461.82 356.47,466.23 357.5,469.5 C358.53,472.77 359.47,475.1 360.8,477.6 C362.13,480.1 363.58,482.18 365.5,484.5 C367.42,486.82 370.05,489.42 372.3,491.5 C374.55,493.58 376.77,495.48 379,497 C381.23,498.52 383.03,499.77 385.7,500.6 C388.37,501.43 388.53,501.68 395,502 C401.47,502.32 419.58,502.42 424.5,502.5" fill="none" stroke="#ef5a5a" stroke-width="1.0" stroke-linejoin="round" />
<path d="M248.2,499.1 C249.42,499.05 253.22,498.9 255.5,498.8 C257.78,498.7 259.75,498.65 261.9,498.5 C264.05,498.35 266.38,498.3 268.4,497.9 C270.42,497.5 272.25,496.93 274,496.1 C275.75,495.27 277.28,494.1 278.9,492.9 C280.52,491.7 282.23,490.3 283.7,488.9 C285.17,487.5 286.48,486.07 287.7,484.5 C288.92,482.93 289.92,481.42 291,479.5 C292.08,477.58 292.97,475.82 294.2,473 C295.43,470.18 297.07,466 298.4,462.6 C299.73,459.2 301.02,455.73 302.2,452.6 C303.38,449.47 304.45,446.57 305.5,443.8 C306.55,441.03 307.45,438.72 308.5,436 C309.55,433.28 310.58,430.47 311.8,427.5 C313.02,424.53 314.65,420.85 315.8,418.2 C316.95,415.55 317.75,413.27 318.7,411.6 C319.65,409.93 320.52,408.9 321.5,408.2 C322.48,407.5 323.42,407.9 324.6,407.4 C325.78,406.9 327.28,406.02 328.6,405.2 C329.92,404.38 331.33,403.17 332.5,402.5 C333.67,401.83 334.52,400.87 335.6,401.2 C336.68,401.53 338.08,403.03 339,404.5 C339.92,405.97 340.38,408 341.1,410 C341.82,412 342.67,414.17 343.3,416.5 C343.93,418.83 344.37,421.13 344.9,424 C345.43,426.87 345.97,430.48 346.5,433.7 C347.03,436.92 347.57,440.25 348.1,443.3 C348.63,446.35 349.12,449.08 349.7,452 C350.28,454.92 350.75,457.88 351.6,460.8 C352.45,463.72 353.6,466.97 354.8,469.5 C356,472.03 357.35,474.1 358.8,476 C360.25,477.9 361.7,479.18 363.5,480.9 C365.3,482.62 367.47,484.5 369.6,486.3 C371.73,488.1 374.07,490.13 376.3,491.7 C378.53,493.27 380.77,494.7 383,495.7 C385.23,496.7 387.7,497.27 389.7,497.7 C391.7,498.13 389.2,498.15 395,498.3 C400.8,498.45 419.58,498.55 424.5,498.6" fill="none" stroke="#e92a2a" stroke-width="1.0" stroke-linejoin="round" stroke-dasharray="3,3"/>
</g>
<rect x="245" y="394" width="179.5" height="134.5" fill="none" stroke="#2b2b2b" stroke-width="1"/>
<line x1="287.33" y1="528.5" x2="287.33" y2="530" stroke="#2b2b2b" stroke-width="1" />
<line x1="329.59" y1="528.5" x2="329.59" y2="530" stroke="#2b2b2b" stroke-width="1" />
<line x1="371.85" y1="528.5" x2="371.85" y2="530" stroke="#2b2b2b" stroke-width="1" />
<line x1="414.11" y1="528.5" x2="414.11" y2="530" stroke="#2b2b2b" stroke-width="1" />
<line x1="266.2" y1="528.5" x2="266.2" y2="531" stroke="#2b2b2b" stroke-width="1" />
<text x="266.2" y="541.1" text-anchor="middle" >0.94</text>
<line x1="308.46" y1="528.5" x2="308.46" y2="531" stroke="#2b2b2b" stroke-width="1" />
<text x="308.46" y="541.1" text-anchor="middle" >0.96</text>
<line x1="350.72" y1="528.5" x2="350.72" y2="531" stroke="#2b2b2b" stroke-width="1" />
<text x="350.72" y="541.1" text-anchor="middle" >0.98</text>
<line x1="392.98" y1="528.5" x2="392.98" y2="531" stroke="#2b2b2b" stroke-width="1" />
<text x="392.98" y="541.1" text-anchor="middle" >1.00</text>
<text x="237.6" y="461.6" font-size="7.8" text-anchor="middle" transform="rotate(-90 237.6 461.6)" >Intensity (a.u.)</text>
<text x="335" y="556" font-size="7.5" text-anchor="middle" ><tspan font-style="italic">q</tspan> (Å<tspan dy="-3.2" font-size="4.8">−1</tspan><tspan dy="3.2">)</tspan></text>
<text x="252.8" y="409.3" font-size="7.7" >(002) and (110)</text>
<text x="252.8" y="422.3" >FAPbI<tspan dy="1.7" font-size="5.6">3</tspan><tspan dy="-1.7"></tspan></text>
<text x="380.1" y="405.5" >Cycle II</text>
<line x1="360" y1="413.7" x2="375.8" y2="413.7" stroke="#f9c6c6" stroke-width="0.9" />
<text x="380.1" y="416.6" >0 min light</text>
<line x1="360" y1="424.8" x2="375.8" y2="424.8" stroke="#f6acac" stroke-width="0.9" />
<text x="380.1" y="427.7" >30 min light</text>
<line x1="360" y1="435.9" x2="375.8" y2="435.9" stroke="#f38b8b" stroke-width="0.9" />
<text x="380.1" y="438.8" >60 min light</text>
<line x1="360" y1="446.9" x2="375.8" y2="446.9" stroke="#ef5a5a" stroke-width="1.0" />
<text x="380.1" y="449.8" >90 min light</text>
<line x1="360" y1="458.1" x2="375.8" y2="458.1" stroke="#e92a2a" stroke-width="1.0" stroke-dasharray="3,3"/>
<text x="380.1" y="461" >Recovery</text>
<text x="439.2" y="391.7" font-size="11" font-weight="bold" fill="#000" >f</text>
<rect x="470.5" y="393.5" width="67.75" height="134" fill="#fffdeb"/>
<rect x="538.25" y="393.5" width="22.12" height="134" fill="#e2e2e2"/>
<rect x="560.36" y="393.5" width="66.35" height="134" fill="#fffdeb"/>
<rect x="626.71" y="393.5" width="23.79" height="134" fill="#e2e2e2"/>
<line x1="470.5" y1="496.4" x2="650.5" y2="496.4" stroke="#1a1a1a" stroke-width="1" />
<polyline points="471.9,496.4 494.02,475.75 516.13,399.34 538.25,420 560.36,496.4 582.48,488.14 604.6,415.87 626.71,409.67 648.83,496.4" fill="none" stroke="#6f86e6" stroke-width="0.9" stroke-linejoin="round" />
<polyline points="471.9,496.4 494.02,495.21 516.13,425.24 538.25,402.71 560.36,496.4 582.48,520.12 604.6,414.57 626.71,416.94 648.83,454.3" fill="none" stroke="#f05a5a" stroke-width="0.9" stroke-linejoin="round" />
<circle cx="471.9" cy="496.4" r="2.5" fill="url(#gfb)"/>
<circle cx="494.02" cy="475.75" r="2.5" fill="url(#gfb)"/>
<circle cx="516.13" cy="399.34" r="2.5" fill="url(#gfb)"/>
<circle cx="538.25" cy="420" r="2.5" fill="url(#gfb)"/>
<circle cx="560.36" cy="496.4" r="2.5" fill="url(#gfb)"/>
<circle cx="582.48" cy="488.14" r="2.5" fill="url(#gfb)"/>
<circle cx="604.6" cy="415.87" r="2.5" fill="url(#gfb)"/>
<circle cx="626.71" cy="409.67" r="2.5" fill="url(#gfb)"/>
<circle cx="648.83" cy="496.4" r="2.5" fill="url(#gfb)"/>
<circle cx="471.9" cy="496.4" r="2.5" fill="url(#gfr)"/>
<circle cx="494.02" cy="495.21" r="2.5" fill="url(#gfr)"/>
<circle cx="516.13" cy="425.24" r="2.5" fill="url(#gfr)"/>
<circle cx="538.25" cy="402.71" r="2.5" fill="url(#gfr)"/>
<circle cx="560.36" cy="496.4" r="2.5" fill="url(#gfr)"/>
<circle cx="582.48" cy="520.12" r="2.5" fill="url(#gfr)"/>
<circle cx="604.6" cy="414.57" r="2.5" fill="url(#gfr)"/>
<circle cx="626.71" cy="416.94" r="2.5" fill="url(#gfr)"/>
<circle cx="648.83" cy="454.3" r="2.5" fill="url(#gfr)"/>
<rect x="470.5" y="393.5" width="180" height="134" fill="none" stroke="#2b2b2b" stroke-width="1"/>
<line x1="482.96" y1="527.5" x2="482.96" y2="528.8" stroke="#2b2b2b" stroke-width="1" />
<line x1="505.07" y1="527.5" x2="505.07" y2="528.8" stroke="#2b2b2b" stroke-width="1" />
<line x1="527.19" y1="527.5" x2="527.19" y2="528.8" stroke="#2b2b2b" stroke-width="1" />
<line x1="549.31" y1="527.5" x2="549.31" y2="528.8" stroke="#2b2b2b" stroke-width="1" />
<line x1="571.42" y1="527.5" x2="571.42" y2="528.8" stroke="#2b2b2b" stroke-width="1" />
<line x1="593.54" y1="527.5" x2="593.54" y2="528.8" stroke="#2b2b2b" stroke-width="1" />
<line x1="615.65" y1="527.5" x2="615.65" y2="528.8" stroke="#2b2b2b" stroke-width="1" />
<line x1="637.77" y1="527.5" x2="637.77" y2="528.8" stroke="#2b2b2b" stroke-width="1" />
<line x1="471.9" y1="527.5" x2="471.9" y2="529.7" stroke="#2b2b2b" stroke-width="1" />
<text x="471.9" y="539.6" text-anchor="middle" >0</text>
<line x1="494.02" y1="527.5" x2="494.02" y2="529.7" stroke="#2b2b2b" stroke-width="1" />
<text x="494.02" y="539.6" text-anchor="middle" >30</text>
<line x1="516.13" y1="527.5" x2="516.13" y2="529.7" stroke="#2b2b2b" stroke-width="1" />
<text x="516.13" y="539.6" text-anchor="middle" >60</text>
<line x1="538.25" y1="527.5" x2="538.25" y2="529.7" stroke="#2b2b2b" stroke-width="1" />
<text x="538.25" y="539.6" text-anchor="middle" >90</text>
<line x1="560.36" y1="527.5" x2="560.36" y2="529.7" stroke="#2b2b2b" stroke-width="1" />
<text x="560.36" y="539.6" text-anchor="middle" >120</text>
<line x1="582.48" y1="527.5" x2="582.48" y2="529.7" stroke="#2b2b2b" stroke-width="1" />
<text x="582.48" y="539.6" text-anchor="middle" >150</text>
<line x1="604.6" y1="527.5" x2="604.6" y2="529.7" stroke="#2b2b2b" stroke-width="1" />
<text x="604.6" y="539.6" text-anchor="middle" >180</text>
<line x1="626.71" y1="527.5" x2="626.71" y2="529.7" stroke="#2b2b2b" stroke-width="1" />
<text x="626.71" y="539.6" text-anchor="middle" >210</text>
<line x1="648.83" y1="527.5" x2="648.83" y2="529.7" stroke="#2b2b2b" stroke-width="1" />
<text x="648.83" y="539.6" text-anchor="middle" >240</text>
<line x1="470.5" y1="506.72" x2="469.2" y2="506.72" stroke="#2b2b2b" stroke-width="1" />
<line x1="470.5" y1="486.07" x2="469.2" y2="486.07" stroke="#2b2b2b" stroke-width="1" />
<line x1="470.5" y1="465.42" x2="469.2" y2="465.42" stroke="#2b2b2b" stroke-width="1" />
<line x1="470.5" y1="444.77" x2="469.2" y2="444.77" stroke="#2b2b2b" stroke-width="1" />
<line x1="470.5" y1="424.12" x2="469.2" y2="424.12" stroke="#2b2b2b" stroke-width="1" />
<line x1="470.5" y1="403.47" x2="469.2" y2="403.47" stroke="#2b2b2b" stroke-width="1" />
<line x1="470.5" y1="517.05" x2="468.5" y2="517.05" stroke="#2b2b2b" stroke-width="1" />
<text x="466.4" y="519.65" text-anchor="end" >−0.1</text>
<line x1="470.5" y1="496.4" x2="468.5" y2="496.4" stroke="#2b2b2b" stroke-width="1" />
<text x="466.4" y="499" text-anchor="end" >0</text>
<line x1="470.5" y1="475.75" x2="468.5" y2="475.75" stroke="#2b2b2b" stroke-width="1" />
<text x="466.4" y="478.35" text-anchor="end" >0.1</text>
<line x1="470.5" y1="455.1" x2="468.5" y2="455.1" stroke="#2b2b2b" stroke-width="1" />
<text x="466.4" y="457.7" text-anchor="end" >0.2</text>
<line x1="470.5" y1="434.45" x2="468.5" y2="434.45" stroke="#2b2b2b" stroke-width="1" />
<text x="466.4" y="437.05" text-anchor="end" >0.3</text>
<line x1="470.5" y1="413.8" x2="468.5" y2="413.8" stroke="#2b2b2b" stroke-width="1" />
<text x="466.4" y="416.4" text-anchor="end" >0.4</text>
<line x1="470.5" y1="393.15" x2="468.5" y2="393.15" stroke="#2b2b2b" stroke-width="1" />
<text x="466.4" y="395.75" text-anchor="end" >0.5</text>
<line x1="650.5" y1="508.26" x2="651.9" y2="508.26" stroke="#2b2b2b" stroke-width="1" />
<line x1="650.5" y1="484.54" x2="651.9" y2="484.54" stroke="#2b2b2b" stroke-width="1" />
<line x1="650.5" y1="460.82" x2="651.9" y2="460.82" stroke="#2b2b2b" stroke-width="1" />
<line x1="650.5" y1="437.1" x2="651.9" y2="437.1" stroke="#2b2b2b" stroke-width="1" />
<line x1="650.5" y1="413.38" x2="651.9" y2="413.38" stroke="#2b2b2b" stroke-width="1" />
<line x1="650.5" y1="520.12" x2="652.9" y2="520.12" stroke="#2b2b2b" stroke-width="1" />
<text x="656.2" y="522.72" >−2</text>
<line x1="650.5" y1="496.4" x2="652.9" y2="496.4" stroke="#2b2b2b" stroke-width="1" />
<text x="656.2" y="499" >0</text>
<line x1="650.5" y1="472.68" x2="652.9" y2="472.68" stroke="#2b2b2b" stroke-width="1" />
<text x="656.2" y="475.28" >2</text>
<line x1="650.5" y1="448.96" x2="652.9" y2="448.96" stroke="#2b2b2b" stroke-width="1" />
<text x="656.2" y="451.56" >4</text>
<line x1="650.5" y1="425.24" x2="652.9" y2="425.24" stroke="#2b2b2b" stroke-width="1" />
<text x="656.2" y="427.84" >6</text>
<line x1="650.5" y1="401.52" x2="652.9" y2="401.52" stroke="#2b2b2b" stroke-width="1" />
<text x="656.2" y="404.12" >8</text>
<text x="482.4" y="402" >Light on</text>
<text x="533.7" y="402" >Light off</text>
<text x="581.3" y="402" >Light on</text>
<text x="617.9" y="402" >Light off</text>
<text x="476.2" y="519" >FAPbI<tspan dy="1.7" font-size="5.6">3</tspan><tspan dy="-1.7"></tspan></text>
<text x="564.3" y="551.5" font-size="7.5" text-anchor="middle" >Time (min)</text>
<text x="444.3" y="456.2" font-size="7.8" text-anchor="middle" transform="rotate(-90 444.3 456.2)" >Change in unit cell volume (%)</text>
<line x1="441.3" y1="512.8" x2="441.3" y2="519.4" stroke="#aab6f5" stroke-width="1" />
<text x="678" y="455.1" text-anchor="middle" transform="rotate(-90 678 455.1)" >Broadening parameter, <tspan font-style="italic">U</tspan> (r.u.)</text>
<line x1="675.2" y1="513.3" x2="675.2" y2="518.4" stroke="#f7a0a0" stroke-width="1" />
</svg></body></html>
